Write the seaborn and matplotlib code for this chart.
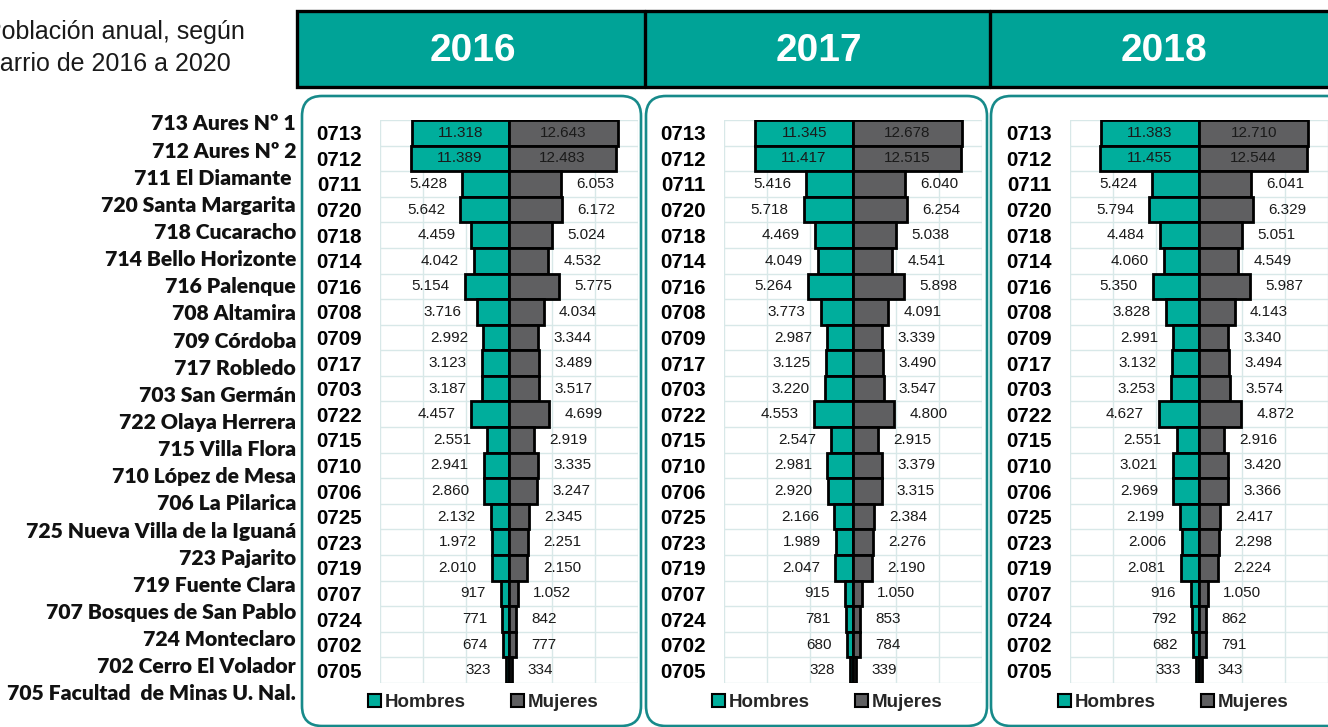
import numpy as np
import pandas as pd
import matplotlib
matplotlib.use("Agg")
import matplotlib.pyplot as plt
from matplotlib.patches import FancyBboxPatch, Rectangle, Patch
import seaborn as sns

# ── Data ──────────────────────────────────────────
codigos = ["0713", "0712", "0711", "0720", "0718", "0714", "0716", "0708",
           "0709", "0717", "0703", "0722", "0715", "0710", "0706", "0725",
           "0723", "0719", "0707", "0724", "0702", "0705"]

barrios = ["713 Aures Nº 1", "712 Aures Nº 2", "711 El Diamante ", "720 Santa Margarita",
           "718 Cucaracho", "714 Bello Horizonte", "716 Palenque", "708 Altamira",
           "709 Córdoba", "717 Robledo", "703 San Germán", "722 Olaya Herrera",
           "715 Villa Flora", "710 López de Mesa", "706 La Pilarica",
           "725 Nueva Villa de la Iguaná", "723 Pajarito", "719 Fuente Clara",
           "707 Bosques de San Pablo", "724 Monteclaro", "702 Cerro El Volador",
           "705 Facultad  de Minas U. Nal."]

anios = ["2016", "2017", "2018"]

hombres_2016 = [11318, 11389, 5428, 5642, 4459, 4042, 5154, 3716, 2992, 3123, 3187,
                4457, 2551, 2941, 2860, 2132, 1972, 2010, 917, 771, 674, 323]
mujeres_2016 = [12643, 12483, 6053, 6172, 5024, 4532, 5775, 4034, 3344, 3489, 3517,
                4699, 2919, 3335, 3247, 2345, 2251, 2150, 1052, 842, 777, 334]

hombres_2017 = [11345, 11417, 5416, 5718, 4469, 4049, 5264, 3773, 2987, 3125, 3220,
                4553, 2547, 2981, 2920, 2166, 1989, 2047, 915, 781, 680, 328]
mujeres_2017 = [12678, 12515, 6040, 6254, 5038, 4541, 5898, 4091, 3339, 3490, 3547,
                4800, 2915, 3379, 3315, 2384, 2276, 2190, 1050, 853, 784, 339]

hombres_2018 = [11383, 11455, 5424, 5794, 4484, 4060, 5350, 3828, 2991, 3132, 3253,
                4627, 2551, 3021, 2969, 2199, 2006, 2081, 916, 792, 682, 333]
mujeres_2018 = [12710, 12544, 6041, 6329, 5051, 4549, 5987, 4143, 3340, 3494, 3574,
                4872, 2916, 3420, 3366, 2417, 2298, 2224, 1050, 862, 791, 343]

series = {
    "2016": (hombres_2016, mujeres_2016),
    "2017": (hombres_2017, mujeres_2017),
    "2018": (hombres_2018, mujeres_2018),
}

# ── Style ─────────────────────────────────────────
sns.set_style("white")
plt.rcParams["font.family"] = ["Liberation Sans", "DejaVu Sans"]

TEAL_BAR = "#00AE9C"
TEAL_HEAD = "#00A397"
TEAL_LINE = "#178A8A"
GRAY_BAR = "#5F5F61"
GRID = "#D8E8E8"

W, H = 1328, 727
fig = plt.figure(figsize=(W / 100, H / 100), dpi=100)

# background layer in pixel coordinates
bg = fig.add_axes([0, 0, 1, 1], zorder=0)
bg.set_xlim(0, W)
bg.set_ylim(H, 0)
bg.axis("off")

# title (left part cut off by the figure edge, as in the source)
bg.text(-15, 32, "Población anual, según", fontsize=18, va="center", ha="left", color="#1a1a1a")
bg.text(-14, 64, "barrio de 2016 a 2020", fontsize=18, va="center", ha="left", color="#1a1a1a")

# header band
bg.add_patch(Rectangle((297, 11), 1100, 76, facecolor=TEAL_HEAD, edgecolor="black", lw=2.4))
for xd in [645, 990]:
    bg.plot([xd, xd], [11, 87], color="black", lw=2.4)

centros = [509, 853, 1199]
cabecera_x = [473, 819, 1164]
paneles = [(302, 641), (646, 987), (991, 1360)]

for anio, cx in zip(anios, cabecera_x):
    bg.text(cx, 51, anio, fontsize=28, fontweight="bold", color="white", ha="center", va="center")

for x0, x1 in paneles:
    bg.add_patch(FancyBboxPatch((x0, 96), x1 - x0, 630,
                                boxstyle="round,pad=0,rounding_size=20",
                                facecolor="white", edgecolor=TEAL_LINE, lw=1.9))

# neighbourhood names on the left
for i, nombre in enumerate(barrios):
    bg.text(296, 124 + i * 27.14, nombre, fontsize=15.2, fontweight="heavy",
            family=["Lato", "DejaVu Sans"], ha="right", va="center", color="#111111")


def fmt(v):
    return f"{abs(v):,}".replace(",", ".")


# ── Pyramids ──────────────────────────────────────
top, bottom = 120, 683
for anio, cx in zip(anios, centros):
    hombres, mujeres = series[anio]
    df = pd.DataFrame({
        "codigo": codigos * 2,
        "valor": [-v for v in hombres] + list(mujeres),
        "sexo": ["Hombres"] * len(codigos) + ["Mujeres"] * len(codigos),
    })

    ax = fig.add_axes([(cx - 129) / W, (H - bottom) / H, 258 / W, (bottom - top) / H], zorder=2)
    ax.set_facecolor("none")
    sns.barplot(data=df, x="valor", y="codigo", hue="sexo", order=codigos,
                hue_order=["Hombres", "Mujeres"], palette=[TEAL_BAR, GRAY_BAR],
                saturation=1, dodge=False, width=1, orient="h", edgecolor="black",
                linewidth=2, legend=False, ax=ax)

    ax.set_xlim(-15000, 15000)
    ax.set_ylim(len(codigos) - 0.5, -0.5)
    ax.set_xticks(np.arange(-15000, 15001, 5000))
    ax.set_xticklabels([])
    ax.set_yticks(np.arange(-0.5, len(codigos), 1), minor=True)
    ax.grid(which="major", axis="x", color=GRID, lw=1)
    ax.grid(which="minor", axis="y", color=GRID, lw=1)
    ax.set_axisbelow(True)
    ax.tick_params(axis="both", which="both", length=0)
    ax.tick_params(axis="y", pad=13)
    for lab in ax.get_yticklabels():
        lab.set_fontweight("bold")
        lab.set_fontsize(14.8)
        lab.set_color("black")
    ax.set_xlabel("")
    ax.set_ylabel("")
    for s in ax.spines.values():
        s.set_visible(False)

    for cont, vals in zip(ax.containers, [hombres, mujeres]):
        dentro = [fmt(v) if i < 2 else "" for i, v in enumerate(vals)]
        fuera = ["" if i < 2 else fmt(v) for i, v in enumerate(vals)]
        ax.bar_label(cont, labels=dentro, label_type="center", fontsize=11, color="#1a1a1a")
        ax.bar_label(cont, labels=fuera, padding=11, fontsize=11, color="#1a1a1a")

    handles = [Patch(facecolor=TEAL_BAR, edgecolor="black", lw=1.5, label="Hombres"),
               Patch(facecolor=GRAY_BAR, edgecolor="black", lw=1.5, label="Mujeres")]
    ax.legend(handles=handles, loc="center", bbox_to_anchor=(0.40, -0.034), ncol=2,
              frameon=False, handlelength=0.7, handleheight=0.7, handletextpad=0.2,
              columnspacing=2.4, prop={"weight": "bold", "size": 13.5})

fig.savefig("out.png", dpi=100)
